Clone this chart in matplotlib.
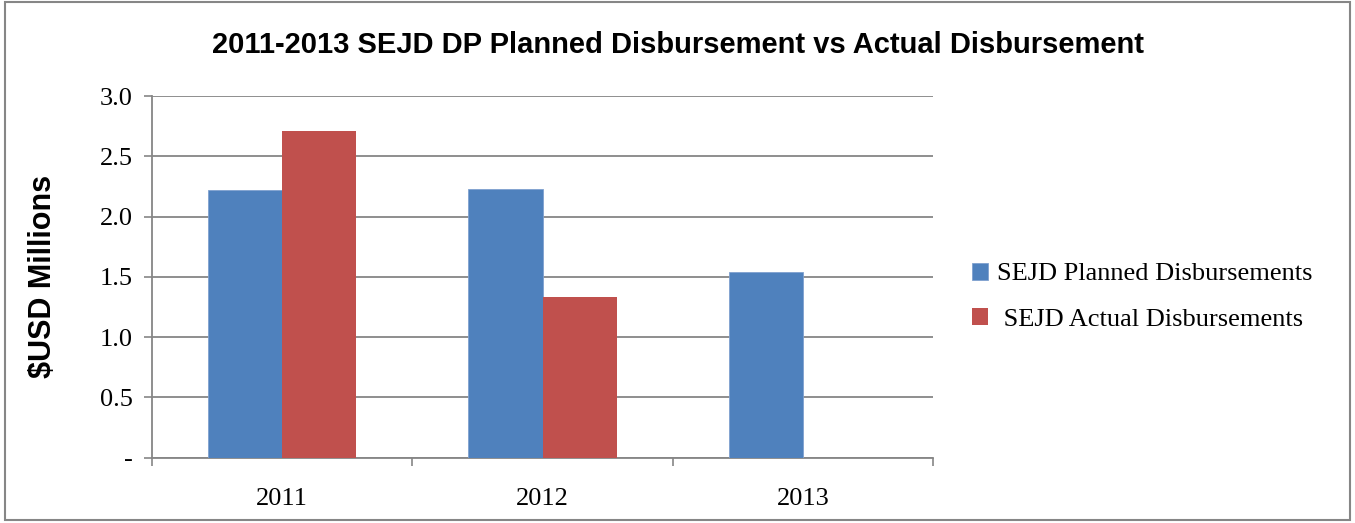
import matplotlib.pyplot as plt
from matplotlib.patches import Rectangle
import numpy as np

anos = ['2011', '2012', '2013']
planificado = [2.22, 2.23, 1.54]
real = [2.71, 1.33, 0.0]
ticks_y = [0, 0.5, 1.0, 1.5, 2.0, 2.5, 3.0]
etiquetas_y = ['-', '0.5', '1.0', '1.5', '2.0', '2.5', '3.0']

azul = '#4F81BD'
rojo = '#C0504D'
gris = '#868686'

fig = plt.figure(figsize=(13.55, 5.23), dpi=100)
ax = fig.add_axes([0.1122, 0.1252, 0.5764, 0.6912])

x = np.arange(len(anos))
ancho = 0.285
b1 = ax.bar(x - ancho / 2, planificado, ancho, color=azul, edgecolor='#7FA1CF', linewidth=0.6,
            label='SEJD Planned Disbursements', zorder=3)
b2 = ax.bar(x + ancho / 2, real, ancho, color=rojo, linewidth=0,
            label=' SEJD Actual Disbursements', zorder=3)

ax.set_xlim(-0.5, 2.5)
ax.set_ylim(0, 3.0)
ax.set_yticks(ticks_y)
ax.set_yticklabels(etiquetas_y, fontfamily='Liberation Serif', fontsize=19)
ax.set_xticks(x)
ax.set_xticklabels(anos, fontfamily='Liberation Serif', fontsize=19)
ax.set_xticks([-0.5, 0.5, 1.5, 2.5], minor=True)
ax.tick_params(axis='x', which='major', length=0, pad=22)
ax.tick_params(axis='x', which='minor', length=6, color=gris, width=1.2)
ax.tick_params(axis='y', length=6, color=gris, width=1.2, pad=8)

ax.grid(axis='y', color=gris, linewidth=1.3, zorder=0)
for lado in ['top', 'right']:
    ax.spines[lado].set_visible(False)
ax.spines['left'].set_color(gris)
ax.spines['bottom'].set_color(gris)
ax.spines['left'].set_linewidth(1.3)
ax.spines['bottom'].set_linewidth(1.3)

ax.set_ylabel('$USD Millions', fontfamily='Liberation Sans', fontweight='bold', fontsize=22, labelpad=30)

fig.text(0.5, 0.914, '2011-2013 SEJD DP Planned Disbursement vs Actual Disbursement',
         ha='center', va='center', fontfamily='Liberation Sans', fontweight='bold', fontsize=21)

ax.legend(loc='center left', bbox_to_anchor=(1.02, 0.445), frameon=False,
          prop={'family': 'Liberation Serif', 'size': 19}, handlelength=0.6, handleheight=0.6,
          handletextpad=0.35, labelspacing=0.85)

fig.patches.append(Rectangle((0.004, 0.006), 0.992, 0.99, transform=fig.transFigure,
                             fill=False, edgecolor=gris, linewidth=1.5))

fig.savefig('out.png', dpi=100)
